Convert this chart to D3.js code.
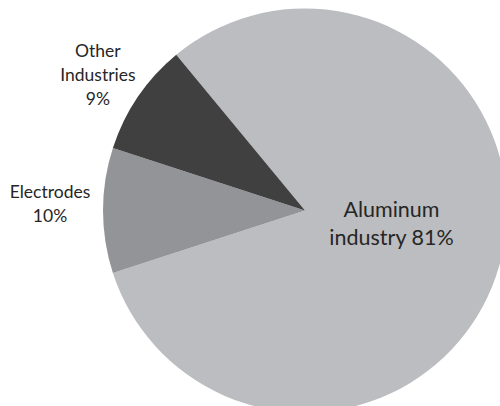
<!DOCTYPE html>
<html>
<head>
<meta charset="utf-8">
<script src="https://cdn.jsdelivr.net/npm/d3@7/dist/d3.min.js"></script>
<style>
  html, body { margin: 0; padding: 0; background: #fff; }
  svg { display: block; }
  text { font-family: Lato, "Open Sans", sans-serif; fill: #262626; }
</style>
</head>
<body>
<svg id="chart" width="500" height="406"></svg>
<script>
// Uses of the product, share in percent
const categories = ["Aluminum industry", "Electrodes", "Other Industries"];
const shares = [81, 10, 9];
// Label text, one entry per line; the last line carries the share
const labelLines = [["Aluminum", "industry"], ["Electrodes"], ["Other", "Industries"]];

const width = 500, height = 406;
const cx = 305, cy = 210.5, radius = 202;
const colors = d3.scaleOrdinal().domain(categories).range(["#bcbdc0", "#939497", "#404040"]);

// Label placement: radius from the centre, extra shift, font size and line height
const labelStyle = {
  "Aluminum industry": { r: 88, dx: 2, dy: -12, size: 21.5, lh: 28, inline: true },
  "Electrodes": { r: 255, dx: 0, dy: -7, size: 17.5, lh: 24 },
  "Other Industries": { r: 248, dx: -2, dy: 4, size: 17.5, lh: 24 }
};

const data = categories.map((c, i) => ({ category: c, value: shares[i], lines: labelLines[i] }));

const pie = d3.pie()
  .value(d => d.value)
  .sort(null)
  .startAngle(-0.11 * 2 * Math.PI)
  .endAngle(0.89 * 2 * Math.PI);

const arcs = pie(data);
const arc = d3.arc().innerRadius(0).outerRadius(radius);

const svg = d3.select("#chart");
const g = svg.append("g").attr("transform", `translate(${cx},${cy})`);

g.selectAll("path.slice")
  .data(arcs)
  .join("path")
  .attr("class", "slice")
  .attr("d", arc)
  .attr("fill", d => colors(d.data.category));

const labels = g.selectAll("text.label")
  .data(arcs)
  .join("text")
  .attr("class", "label")
  .attr("text-anchor", "middle")
  .each(function(d) {
    const s = labelStyle[d.data.category];
    const mid = (d.startAngle + d.endAngle) / 2;
    const x = Math.sin(mid) * s.r + s.dx;
    const y = -Math.cos(mid) * s.r + s.dy;
    const lines = d.data.lines.slice();
    const pct = d.data.value + "%";
    if (s.inline) lines[lines.length - 1] += " " + pct; else lines.push(pct);
    const t = d3.select(this).attr("font-size", s.size);
    const n = lines.length;
    lines.forEach((ln, i) => {
      t.append("tspan")
        .attr("x", x)
        .attr("y", y + (i - (n - 1) / 2) * s.lh)
        .attr("dy", "0.35em")
        .text(ln);
    });
  });
</script>
</body>
</html>
